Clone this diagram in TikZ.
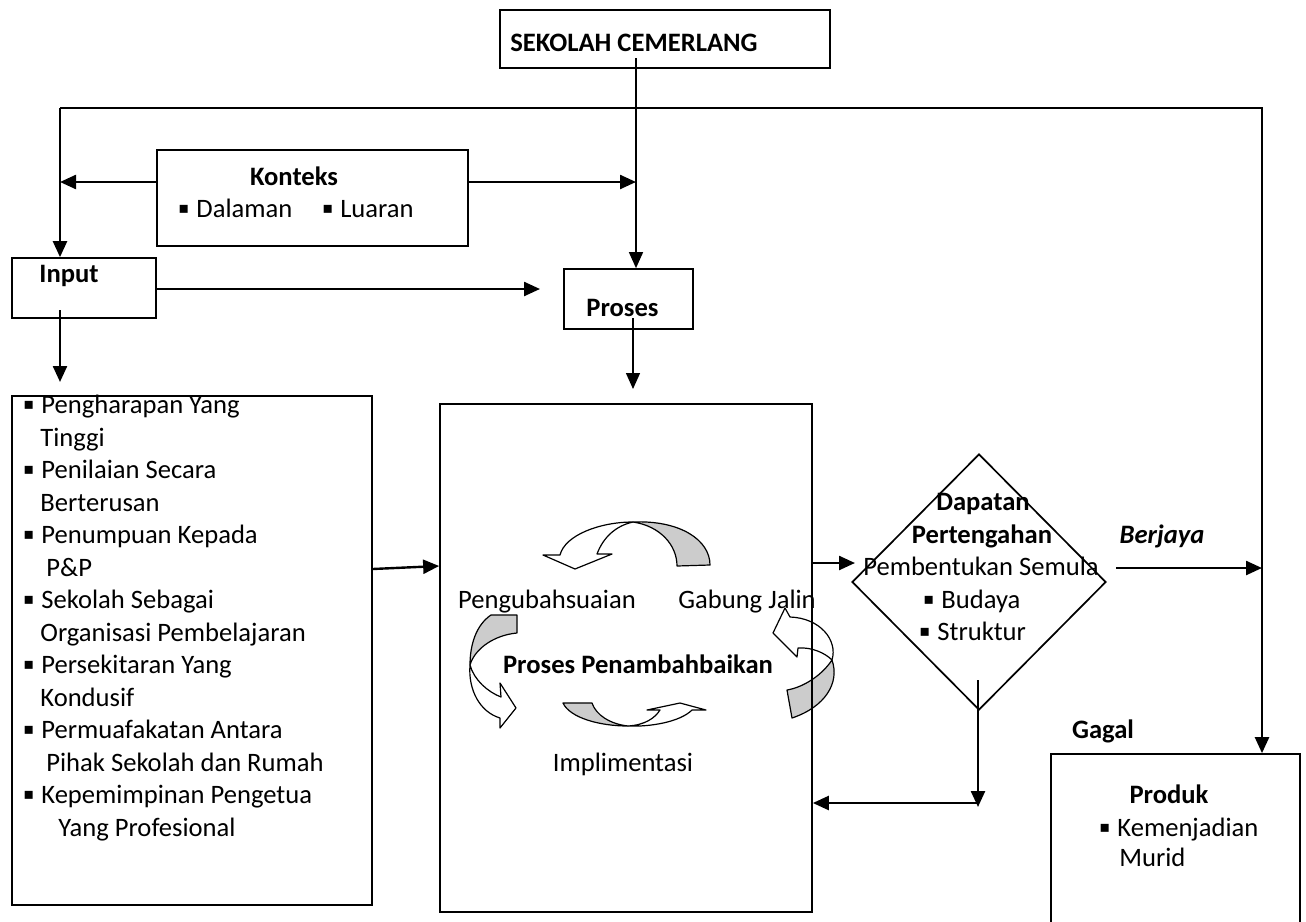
\documentclass[tikz,border=0pt]{standalone}
\usepackage{fontspec}
\setmainfont{Carlito}
\newfontfamily\dejavu{DejaVu Sans}
\usepackage{tikz}
\usetikzlibrary{arrows.meta}
\usetikzlibrary{shapes.geometric}
\usetikzlibrary{fit}
\tikzset{box/.style = {draw, line width=0.85pt, inner sep=0}}
\tikzset{arr/.style = {line width=1.2pt, -{Triangle[length=8pt, width=7pt]}}}
\tikzset{thinarr/.style = {line width=0.7pt, -{Triangle[length=8pt, width=7pt]}}}
\tikzset{txt/.style = {inner sep=0, anchor=base, font=\fontsize{13.3}{16}\selectfont}}
\tikzset{btxt/.style = {txt, font=\fontsize{13.3}{16}\selectfont\bfseries}}
\tikzset{back/.style = {draw, fill=black!20, line width=0.6pt, line join=round}}
\tikzset{front/.style = {draw, fill=white, line width=0.6pt, line join=round}}
\newcommand{\bul}{\makebox[9pt][l]{\raisebox{1.6pt}{\dejavu\fontsize{8}{8}\selectfont ▪}}}

\begin{document}
\begin{tikzpicture}[x=0.5pt, y=-0.5pt]
  \useasboundingbox (0,0) rectangle (1306,921);
  \clip (0,0) rectangle (1306,921);

  % boxes
  \node [box, fit={(500,10) (830,68)}] (sekolah) {};
  \node [box, fit={(157,150) (468,246)}] (konteks) {};
  \node [box, fit={(12,258) (156,318)}] (input) {};
  \node [box, fit={(564,269) (693,329)}] (proses) {};
  \node [box, fit={(12,396) (372,905)}] (ciri) {};
  \node [box, fit={(1051,754) (1300,940)}] (produk) {};
  \node [box, diamond, minimum width=127pt, minimum height=128pt] (dapatan) at (979,582) {};

  % kitaran penambahbaikan
  \draw [back] (710,565) -- (677,566) .. controls (677,545) and (660,526) .. (633,522) .. controls (680,520) and (710,540) .. (710,565) -- cycle;
  \draw [front] (633,522) .. controls (600,522) and (565,535) .. (560,555) -- (543,555) -- (575,569) -- (612,554) -- (597,554) .. controls (603,538) and (615,526) .. (633,522) -- cycle;
  \draw [back] (491,615) -- (517,615) -- (517,633) .. controls (495,635) and (475,648) .. (470,665) .. controls (470,645) and (476,625) .. (491,615) -- cycle;
  \draw [front] (470,665) .. controls (468,690) and (480,712) .. (500,718) -- (500,728) -- (516,708) -- (500,683) -- (501,697) .. controls (488,692) and (474,680) .. (470,665) -- cycle;
  \draw [back] (563,703) -- (592,703) .. controls (596,715) and (610,724) .. (628,726) .. controls (600,726) and (570,718) .. (563,703) -- cycle;
  \draw [front] (628,726) .. controls (650,727) and (680,722) .. (692,710) -- (706,710) -- (680,703) -- (647,710) -- (660,710) .. controls (655,718) and (645,725) .. (628,726) -- cycle;
  \draw [back] (832,660) .. controls (820,678) and (800,688) .. (787,690) -- (792,718) .. controls (825,707) and (840,683) .. (832,660) -- cycle;
  \draw [front] (832,660) .. controls (838,640) and (820,618) .. (790,617) -- (785,608) -- (773,633) -- (797,657) -- (798,648) .. controls (812,647) and (825,653) .. (832,660) -- cycle;

  \node [box, fit={(440,404) (812,912)}] (kitar) {};

  % texts
  \node [btxt, anchor=base west] (t-sekolah) at (510,51) {SEKOLAH CEMERLANG};
  \node [btxt] (t-konteks) at (294,185) {Konteks};
  \node [txt, anchor=base west] (t-persekitaran) at (178,217) {\bul Dalaman\hspace{15pt}\bul Luaran};
  \node [btxt, anchor=base west] (t-input) at (39,282) {Input};
  \node [btxt, anchor=base west] (t-proses) at (586,316) {Proses};
  \foreach \x/\y/\t [count=\i] in {
      23/413/{\bul Pengharapan Yang},
      40/446/Tinggi,
      23/478/{\bul Penilaian Secara},
      40/511/Berterusan,
      23/543/{\bul Penumpuan Kepada},
      46/576/P\&P,
      23/608/{\bul Sekolah Sebagai},
      40/641/Organisasi Pembelajaran,
      23/673/{\bul Persekitaran Yang},
      40/706/Kondusif,
      23/738/{\bul Permuafakatan Antara},
      46/771/Pihak Sekolah dan Rumah,
      23/803/{\bul Kepemimpinan Pengetua},
      58/836/Yang Profesional}
    \node [txt, anchor=base west] (ciri\i) at (\x,\y) {\t};
  \node [txt] (t-ubah) at (547,608) {Pengubahsuaian};
  \node [txt] (t-gabung) at (747,608) {Gabung Jalin};
  \node [btxt] (t-tambah) at (638,673) {Proses Penambahbaikan};
  \node [txt] (t-impl) at (623,771) {Implimentasi};
  \node [btxt] (t-dapatan) at (983,510) {Dapatan};
  \node [btxt] (t-tengah) at (982,543) {Pertengahan};
  \node [txt] (t-bentuk) at (981,575) {Pembentukan Semula};
  \node [txt, anchor=base west] (t-budaya) at (923,608) {\bul Budaya};
  \node [txt, anchor=base west] (t-struktur) at (919,640) {\bul Struktur};
  \node [btxt, font=\fontsize{13.3}{16}\selectfont\bfseries\itshape] (t-berjaya) at (1162,543) {Berjaya};
  \node [btxt] (t-gagal) at (1103,738) {Gagal};
  \node [btxt] (t-produk) at (1169,803) {Produk};
  \node [txt, anchor=base west] (t-murid1) at (1099,836) {\bul Kemenjadian};
  \node [txt, anchor=base west] (t-murid2) at (1119,866) {Murid};

  % connectors
  \coordinate (lpL) at (60,108);
  \coordinate (lpR) at (1262,108);
  \coordinate (skl) at (636,58);
  \coordinate (kY) at (0,182);
  \coordinate (pIn) at (540,289);
  \coordinate (iDn) at (60,310);
  \coordinate (iTip) at (60,382);
  \coordinate (pDn) at (633,318);
  \coordinate (pTip) at (633,389);
  \coordinate (cOut) at (372,569);
  \coordinate (cIn) at (440,566);
  \coordinate (dIn) at (855,563);
  \coordinate (bj) at (1116,568);
  \coordinate (dDn) at (978,680);
  \coordinate (dTip) at (978,807);
  \coordinate (dBk) at (978,803);

  \draw [thinarr] (skl) -- (proses.north -| skl);
  \draw [arr] (lpL) -- (lpR) -- (produk.north -| lpR);
  \draw [arr] (lpL) -- (input.north -| lpL);
  \draw [arr] (konteks.west |- kY) -- (lpL |- kY);
  \draw [arr] (konteks.east |- kY) -- (skl |- kY);
  \draw [arr] (input.east |- pIn) -- (pIn);
  \draw [arr] (iDn) -- (iTip);
  \draw [thinarr] (pDn) -- (pTip);
  \draw [arr] (ciri.east |- cOut) -- (kitar.west |- cIn);
  \draw [arr] (kitar.east |- dIn) -- (dIn);
  \draw [arr] (bj) -- (lpR |- bj);
  \draw [arr] (dDn) -- (dTip);
  \draw [arr] (dBk) -- (kitar.east |- dBk);
\end{tikzpicture}
\end{document}
